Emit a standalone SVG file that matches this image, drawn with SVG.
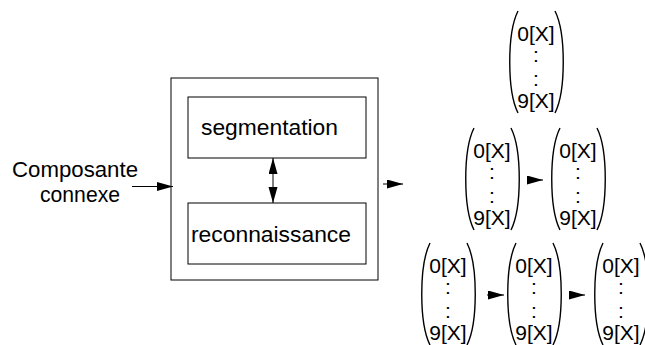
<svg xmlns="http://www.w3.org/2000/svg" width="645" height="345" viewBox="0 0 645 345">
<style>
.box{fill:none;stroke:#000;stroke-width:1}
.lbl{font-family:"Liberation Sans",Arial,sans-serif;font-size:22px;fill:#000}
.mx{font-family:"Liberation Sans",Arial,sans-serif;font-size:21px;fill:#000;text-anchor:middle}
.par{fill:none;stroke:#000;stroke-width:1.4}
.ln{stroke:#000;stroke-width:1;fill:none}
</style>
<defs>
<marker id="ah" markerUnits="userSpaceOnUse" markerWidth="16" markerHeight="10" refX="16" refY="4.5" orient="auto-start-reverse">
<path d="M0,0 L16,4.5 L0,9 z" fill="#000"/>
</marker>
<g id="mat">
<path class="par" d="M-18,-30 C-29,-8 -29,50 -18,72"/>
<path class="par" d="M19,-30 C30,-8 30,50 19,72"/>
<text class="mx" x="0" y="0">0[X]</text>
<text class="mx" x="0" y="21">:</text>
<text class="mx" x="0" y="45">:</text>
<text class="mx" x="0" y="67">9[X]</text>
</g>
</defs>
<g id="input-label">
<text class="lbl" x="12" y="177" textLength="126" lengthAdjust="spacingAndGlyphs">Composante</text>
<text class="lbl" x="40" y="202" textLength="80" lengthAdjust="spacingAndGlyphs">connexe</text>
</g>
<g id="outer">
<rect class="box" x="171" y="78" width="207" height="202"/>
</g>
<g id="segmentation">
<rect class="box" x="188" y="97" width="178" height="61"/>
<text class="lbl" x="201" y="135" textLength="137" lengthAdjust="spacingAndGlyphs">segmentation</text>
</g>
<g id="reconnaissance">
<rect class="box" x="188" y="203" width="178" height="61"/>
<text class="lbl" x="191" y="242" textLength="160" lengthAdjust="spacingAndGlyphs">reconnaissance</text>
</g>
<g id="m1"><use href="#mat" x="536" y="41"/></g>
<g id="m2a"><use href="#mat" x="492" y="158"/></g>
<g id="m2b"><use href="#mat" x="578" y="158"/></g>
<g id="m3a"><use href="#mat" x="448" y="273"/></g>
<g id="m3b"><use href="#mat" x="534" y="273"/></g>
<g id="m3c"><use href="#mat" x="621" y="273"/></g>
<g id="connectors">
<line class="ln" x1="132" y1="186.5" x2="173" y2="186.5" marker-end="url(#ah)"/>
<line class="ln" x1="273" y1="158" x2="273" y2="203" marker-start="url(#ah)" marker-end="url(#ah)"/>
<line class="ln" x1="383" y1="184" x2="403" y2="184" marker-end="url(#ah)"/>
<line class="ln" x1="527" y1="180" x2="543" y2="180" marker-end="url(#ah)"/>
<line class="ln" x1="487" y1="295" x2="504" y2="295" marker-end="url(#ah)"/>
<line class="ln" x1="569" y1="295" x2="585" y2="295" marker-end="url(#ah)"/>
</g>
</svg>
